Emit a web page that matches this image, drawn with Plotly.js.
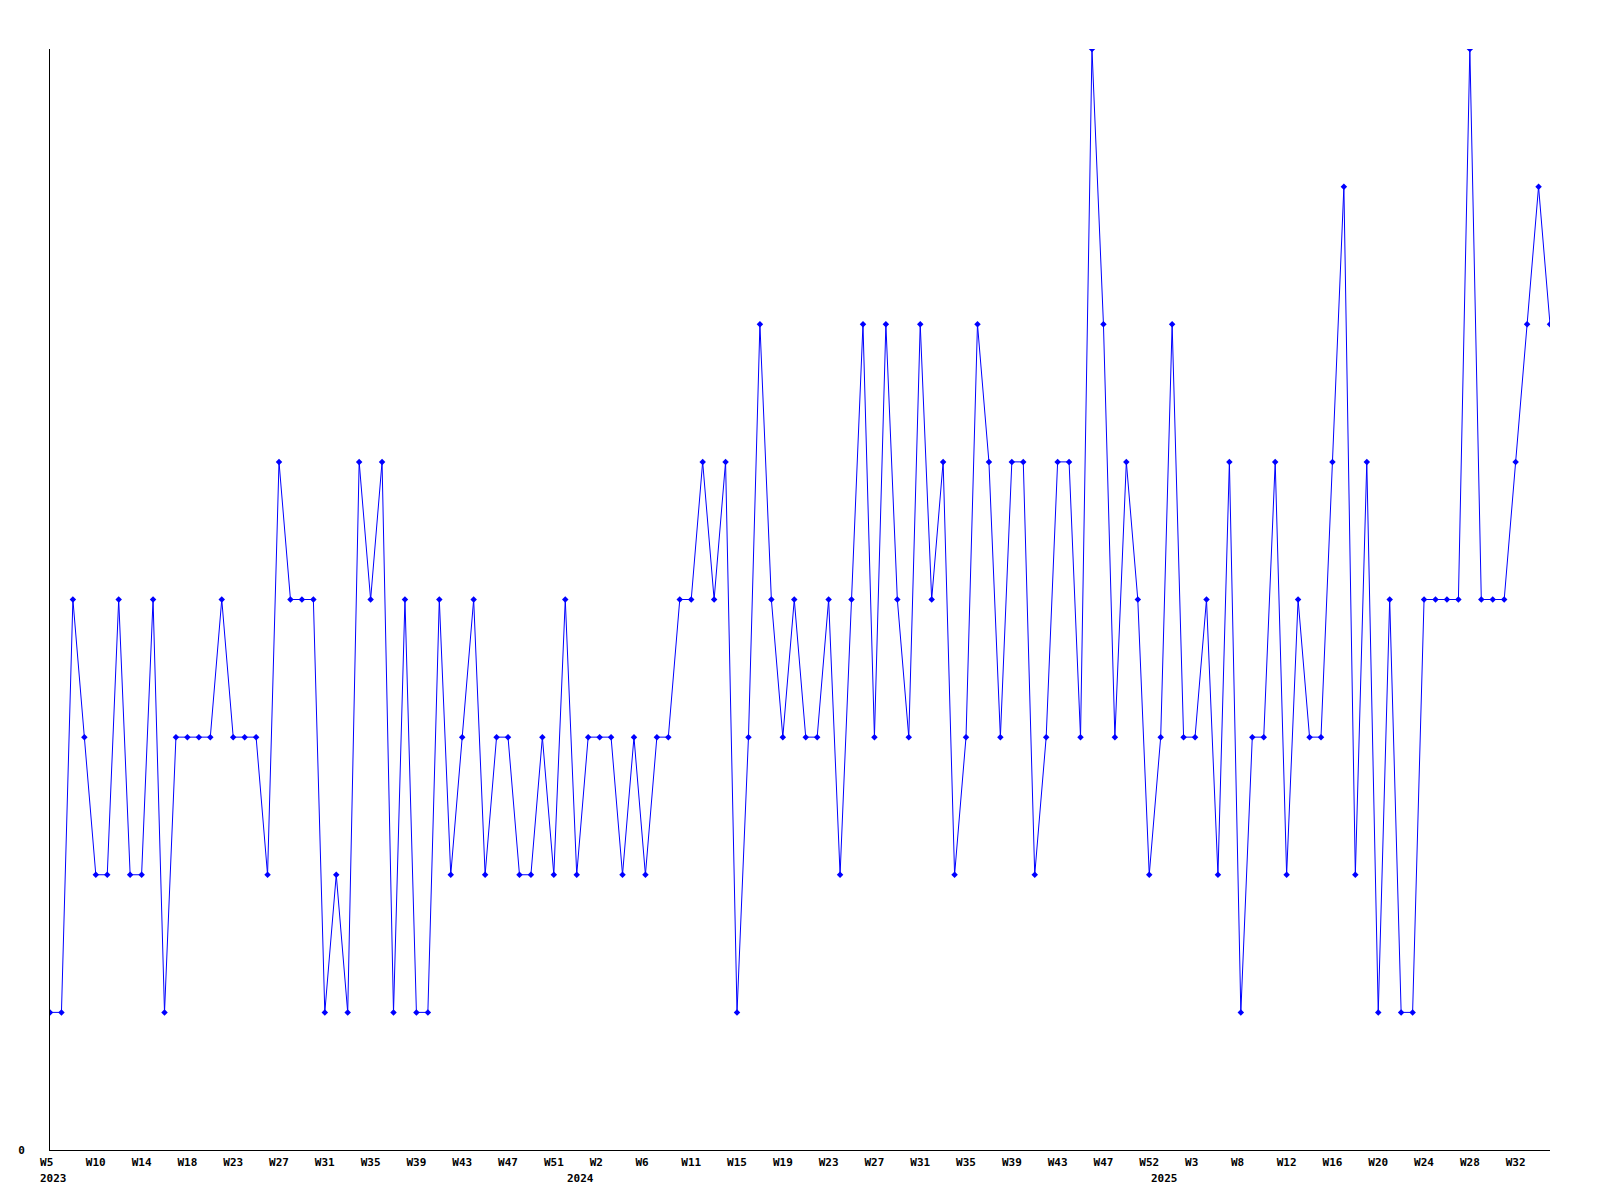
<!DOCTYPE html>
<html>
<head>
<meta charset="utf-8">
<script src="https://cdn.plot.ly/plotly-3.0.1.min.js"></script>
<style>
  html, body { margin: 0; padding: 0; background: #ffffff; }
  #chart { width: 1600px; height: 1200px; }
</style>
</head>
<body>
<div id="chart"></div>
<script>
// Weekly values, 2023 W5 onward (one per week)
const values = [
  1,1,4,3,2,2,4,2,2,4,
  1,3,3,3,3,4,3,3,3,2,
  5,4,4,4,1,2,1,5,4,5,
  1,4,1,1,4,2,3,4,2,3,
  3,2,2,3,2,4,2,3,3,3,
  2,3,2,3,3,4,4,5,4,5,
  1,3,6,4,3,4,3,3,4,2,
  4,6,3,6,4,3,6,4,5,2,
  3,6,5,3,5,5,2,3,5,5,
  3,8,6,3,5,4,2,3,6,3,
  3,4,2,5,1,3,3,5,2,4,
  3,3,5,7,2,5,1,4,1,1,
  4,4,4,4,8,4,4,4,5,6,
  7,6
];
const weekIndex = values.map((_, i) => i);

// Axis tick labels (one every 4 weeks)
const tickLabels = [
  'W5','W10','W14','W18','W23','W27','W31','W35','W39','W43','W47','W51',
  'W2','W6','W11','W15','W19','W23','W27','W31','W35','W39','W43','W47','W52',
  'W3','W8','W12','W16','W20','W24','W28','W32'
];
const tickStep = 4;
const tickVals = tickLabels.map((_, i) => i * tickStep);
// pad to 3 characters so labels line up on the left like the original
const tickText = tickLabels.map(t => t.length < 3 ? t + '\u00a0'.repeat(3 - t.length) : t);

// Year labels and the week index where each year begins on the label scale
const yearLabels = ['2023', '2024', '2025'];
const yearPos = [0, 46, 97];

const monoFont = { family: 'DejaVu Sans Mono, monospace', size: 11, color: '#000000', weight: 'bold' };

const trace = {
  x: weekIndex,
  y: values,
  type: 'scatter',
  mode: 'lines+markers',
  line: { color: '#0000ff', width: 1 },
  marker: { color: '#0000ff', size: 5, symbol: 'diamond' },
  hoverinfo: 'x+y',
  cliponaxis: true
};

const annotations = yearLabels.map((t, i) => ({
  x: yearPos[i],
  xref: 'x',
  y: 0,
  yref: 'paper',
  yanchor: 'top',
  xanchor: 'left',
  xshift: -12,
  yshift: -20,
  text: t,
  showarrow: false,
  font: monoFont
}));

const layout = {
  width: 1600,
  height: 1200,
  margin: { l: 50, r: 50, t: 49, b: 50 },
  paper_bgcolor: '#ffffff',
  plot_bgcolor: '#ffffff',
  showlegend: false,
  font: monoFont,
  xaxis: {
    range: [0, values.length - 1],
    showgrid: false,
    zeroline: false,
    showline: true,
    linecolor: '#000000',
    linewidth: 1,
    ticks: '',
    tickmode: 'array',
    tickvals: tickVals,
    ticktext: tickText,
    tickfont: monoFont,
    ticklabelstandoff: 2,
    fixedrange: true
  },
  yaxis: {
    range: [0, 8],
    showgrid: false,
    zeroline: false,
    showline: true,
    linecolor: '#000000',
    linewidth: 1,
    ticks: '',
    tickmode: 'array',
    tickvals: [0],
    ticktext: ['0'],
    tickfont: monoFont,
    ticklabelstandoff: 22,
    fixedrange: true
  },
  annotations: annotations
};

Plotly.newPlot('chart', [trace], layout, { displayModeBar: false, staticPlot: true });
</script>
</body>
</html>
